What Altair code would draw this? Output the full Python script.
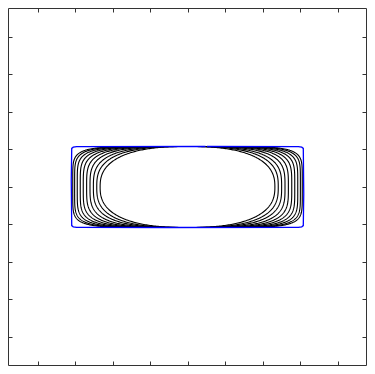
import numpy as np
import pandas as pd
import altair as alt

# Superellipse families |x/a|^n + |y/b|^n = 1 (parameters)
black_a = [2.33, 2.42, 2.51, 2.60, 2.69, 2.78, 2.86, 2.94, 3.01, 3.06]
black_n = [2.5, 2.8, 3.1, 3.5, 3.9, 4.3, 4.8, 5.3, 5.9, 6.5]
shape_b = 1.08
blue_a = 3.10
blue_n = 40
tick_vals = [-4, -3, -2, -1, 0, 1, 2, 3, 4]

x_domain = [-4.787, 4.760]
y_domain = [-4.747, 4.773]


def superellipse(a, b, n, k):
    t = np.linspace(0, 2 * np.pi, k) + np.pi / 2
    c, s = np.cos(t), np.sin(t)
    x = a * np.sign(c) * np.abs(c) ** (2.0 / n)
    y = b * np.sign(s) * np.abs(s) ** (2.0 / n)
    return x, y


rows = []
for i, (a, n) in enumerate(zip(black_a, black_n)):
    x, y = superellipse(a, shape_b, n, 400)
    for j in range(len(x)):
        rows.append({"curve": i, "idx": j, "x": x[j], "y": y[j]})
black_df = pd.DataFrame(rows)

bx, by = superellipse(blue_a, shape_b, blue_n, 17)
blue_df = pd.DataFrame({"idx": range(len(bx)), "x": bx, "y": by})

xs = alt.Scale(domain=x_domain, nice=False, zero=False)
ys = alt.Scale(domain=y_domain, nice=False, zero=False)

ax_common = dict(labels=False, title=None, domain=False, grid=False,
                 values=tick_vals, tickSize=4, offset=-4, tickColor="#333",
                 tickWidth=1)

black = alt.Chart(black_df).mark_line(color="black", strokeWidth=1.1).encode(
    x=alt.X("x:Q", scale=xs, axis=alt.Axis(orient="bottom", **ax_common)),
    y=alt.Y("y:Q", scale=ys, axis=alt.Axis(orient="left", **ax_common)),
    detail="curve:N",
    order="idx:Q",
)

blue = alt.Chart(blue_df).mark_line(color="#0000ff", strokeWidth=1.3).encode(
    x=alt.X("x:Q", scale=xs, axis=alt.Axis(orient="top", **ax_common)),
    y=alt.Y("y:Q", scale=ys, axis=alt.Axis(orient="right", **ax_common)),
    order="idx:Q",
)

chart = alt.layer(black, blue).resolve_axis(
    x="independent", y="independent"
).properties(
    width=358, height=357,
    padding={"left": 0, "top": 0, "right": 1, "bottom": 1},
    autosize=alt.AutoSizeParams(type="none"),
).configure_view(stroke="#333", strokeWidth=1)

chart.save("out.html", embed_options={"renderer": "svg", "actions": False})
